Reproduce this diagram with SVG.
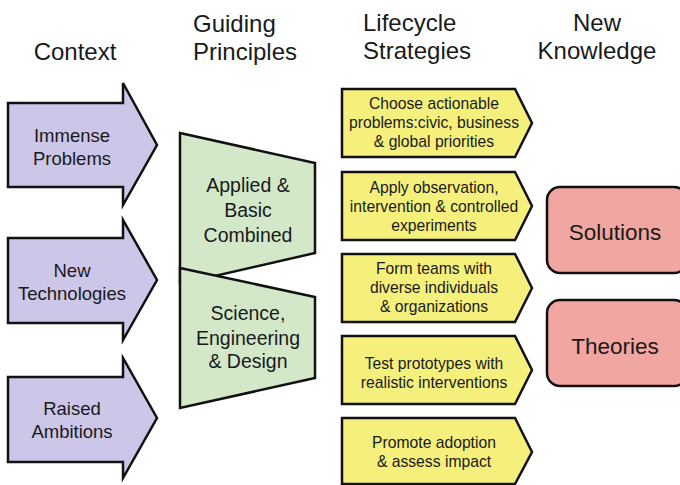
<svg xmlns="http://www.w3.org/2000/svg" width="680" height="485" viewBox="0 0 680 485">
<style>
text{font-family:"Liberation Sans",Arial,sans-serif;fill:#1a1a1a;text-anchor:middle}
.hdr{font-size:24px}
.hl{text-anchor:start}
.ctx{fill:#ccc6e8;stroke:#111;stroke-width:2.5;stroke-linejoin:miter}
.gp{fill:#d3e8c9;stroke:#111;stroke-width:2.5}
.ls{fill:#f5f07c;stroke:#111;stroke-width:2.5}
.nk{fill:#f2a6a1;stroke:#111;stroke-width:2.5}
.t18{font-size:18.5px}
.t19{font-size:19.5px}
.t15{font-size:15.7px}
.t22{font-size:22.5px}
</style>
<rect width="680" height="485" fill="#fff"/>
<g id="headers">
<text class="hdr" x="75" y="60">Context</text>
<text class="hdr hl" x="193" y="32">Guiding</text>
<text class="hdr hl" x="193" y="60">Principles</text>
<text class="hdr hl" x="363" y="31">Lifecycle</text>
<text class="hdr hl" x="363" y="59">Strategies</text>
<text class="hdr" x="597" y="31">New</text>
<text class="hdr" x="597" y="59">Knowledge</text>
</g>
<g id="ctx1">
<polygon class="ctx" points="8,103 123,103 123,83 157,145 123,205 123,187 8,187"/>
<text class="t18" x="72" y="142">Immense</text>
<text class="t18" x="72" y="165">Problems</text>
</g>
<g id="ctx2">
<polygon class="ctx" points="8,238 123,238 123,220 157,280 123,340 123,323 8,323"/>
<text class="t18" x="72" y="277">New</text>
<text class="t18" x="72" y="300">Technologies</text>
</g>
<g id="ctx3">
<polygon class="ctx" points="8,377 123,377 123,358 157,418 123,478 123,462 8,462"/>
<text class="t18" x="72" y="415">Raised</text>
<text class="t18" x="72" y="438">Ambitions</text>
</g>
<g id="gp1">
<polygon class="gp" points="180,133 315,163 315,253 180,284"/>
<text class="t19" x="248" y="192">Applied &amp;</text>
<text class="t19" x="248" y="217">Basic</text>
<text class="t19" x="248" y="242">Combined</text>
</g>
<g id="gp2">
<polygon class="gp" points="180,268 315,297 315,378 180,408"/>
<text class="t19" x="248" y="320">Science,</text>
<text class="t19" x="248" y="345">Engineering</text>
<text class="t19" x="248" y="368">&amp; Design</text>
</g>
<g id="ls1">
<polygon class="ls" points="342,89 515,89 532,123 515,157 342,157"/>
<text class="t15" x="434" y="109">Choose actionable</text>
<text class="t15" x="434" y="128">problems:civic, business</text>
<text class="t15" x="434" y="147">&amp; global priorities</text>
</g>
<g id="ls2">
<polygon class="ls" points="342,172 515,172 532,206 515,240 342,240"/>
<text class="t15" x="434" y="193">Apply observation,</text>
<text class="t15" x="434" y="212">intervention &amp; controlled</text>
<text class="t15" x="434" y="231">experiments</text>
</g>
<g id="ls3">
<polygon class="ls" points="342,254 515,254 532,288 515,322 342,322"/>
<text class="t15" x="434" y="274">Form teams with</text>
<text class="t15" x="434" y="293">diverse individuals</text>
<text class="t15" x="434" y="312">&amp; organizations</text>
</g>
<g id="ls4">
<polygon class="ls" points="342,336 515,336 532,370 515,404 342,404"/>
<text class="t15" x="434" y="369">Test prototypes with</text>
<text class="t15" x="434" y="388">realistic interventions</text>
</g>
<g id="ls5">
<polygon class="ls" points="342,418 515,418 532,452 515,484 342,484"/>
<text class="t15" x="434" y="448">Promote adoption</text>
<text class="t15" x="434" y="467">&amp; assess impact</text>
</g>
<g id="nk1">
<rect class="nk" x="547" y="187" width="140" height="86" rx="13"/>
<text class="t22" x="615" y="240">Solutions</text>
</g>
<g id="nk2">
<rect class="nk" x="547" y="300" width="140" height="86" rx="13"/>
<text class="t22" x="615" y="354">Theories</text>
</g>
<g id="connectors"></g>
</svg>
